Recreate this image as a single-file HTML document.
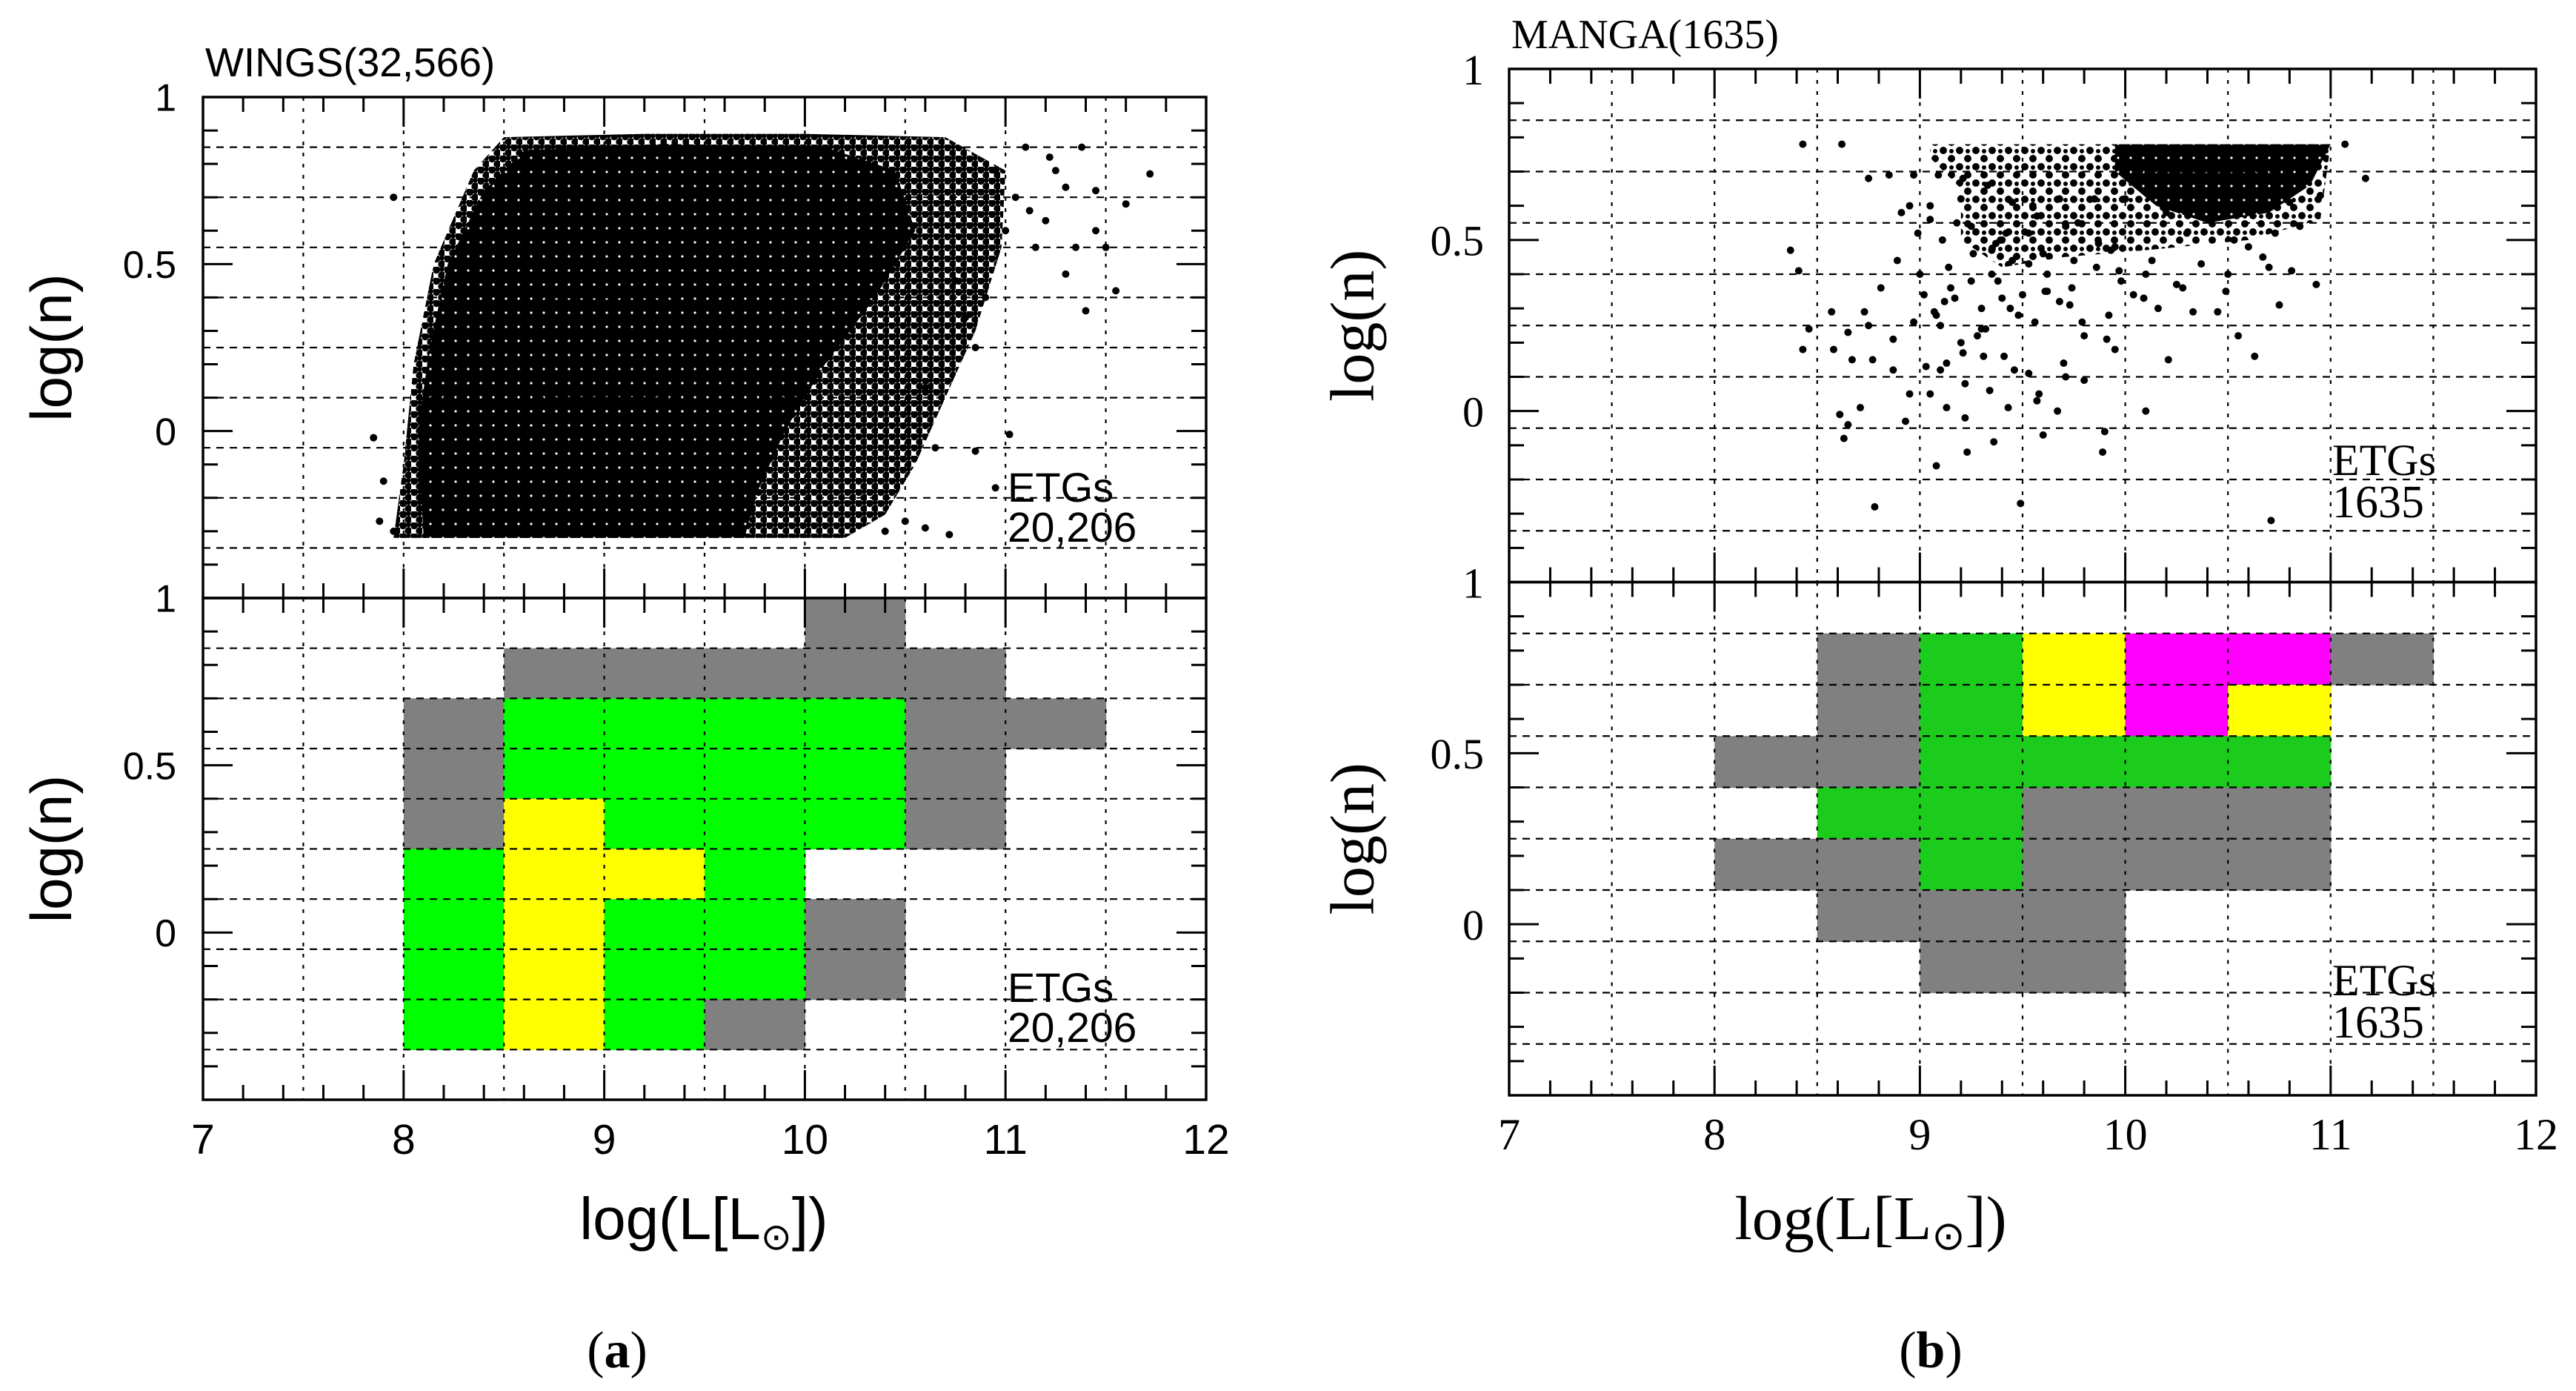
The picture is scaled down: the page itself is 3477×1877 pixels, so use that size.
<!DOCTYPE html>
<html><head><meta charset="utf-8">
<style>
html,body{margin:0;padding:0;background:#fff;}
svg{display:block;}
.sa{font-family:"Liberation Sans",sans-serif;}
.se{font-family:"Liberation Serif",serif;}
</style></head>
<body>
<svg id="fig" width="3477" height="1877" viewBox="0 0 3477 1877" xmlns="http://www.w3.org/2000/svg">
<defs>
<pattern id="dense" width="17" height="19" patternUnits="userSpaceOnUse">
<rect width="17" height="19" fill="#000"/>
<circle cx="3" cy="4" r="1.6" fill="#fff"/>
</pattern>
<pattern id="fringeA" width="15" height="15" patternUnits="userSpaceOnUse">
<circle cx="4" cy="4" r="5.2" fill="#000"/>
<circle cx="11.5" cy="11.5" r="5.2" fill="#000"/>
<circle cx="11.5" cy="3" r="3.5" fill="#000"/>
</pattern>
<pattern id="fringeB" width="22" height="22" patternUnits="userSpaceOnUse">
<circle cx="5" cy="5" r="5" fill="#000"/>
<circle cx="16" cy="16" r="5" fill="#000"/>
<circle cx="16" cy="6" r="3" fill="#000"/>
</pattern>
</defs>
<g id="root"></g>
</svg>
<script>
// ---------- data ----------
const xTicksMajor = [7, 8, 9, 10, 11, 12];
const yTickLabels = ["1", "0.5", "0"];
const yTickValues = [1, 0.5, 0];
const binEdgesY = [0.85, 0.70, 0.55, 0.40, 0.25, 0.10, -0.05, -0.20, -0.35];
const gridX = [7.5, 8, 8.5, 9, 9.5, 10, 10.5, 11, 11.5];

const wingsCellLum0 = [10.0, 8.5, 8.0, 8.5, 10.5, 11.0, 8.0, 8.5, 10.5, 8.0, 8.5, 9.0, 10.5, 8.0, 8.5, 9.5, 10.0, 8.0, 8.5, 9.0, 10.0, 8.0, 8.5, 9.0, 9.5];
const wingsCellLum1 = [10.5, 11.0, 8.5, 10.5, 11.0, 11.5, 8.5, 10.5, 11.0, 8.5, 9.0, 10.5, 11.0, 8.5, 9.5, 10.0, 10.5, 8.5, 9.0, 10.0, 10.5, 8.5, 9.0, 9.5, 10.0];
const wingsCellN0 = [0.85, 0.70, 0.55, 0.55, 0.55, 0.55, 0.40, 0.40, 0.40, 0.25, 0.25, 0.25, 0.25, 0.10, 0.10, 0.10, -0.20, -0.35, -0.35, -0.20, -0.05, -0.35, -0.35, -0.35, -0.35];
const wingsCellN1 = [1.00, 0.85, 0.70, 0.70, 0.70, 0.70, 0.55, 0.55, 0.55, 0.40, 0.40, 0.40, 0.40, 0.25, 0.25, 0.25, 0.10, 0.10, 0.10, 0.10, 0.10, -0.20, -0.20, -0.20, -0.20];
const wingsCellColor = ["g","g","g","G","g","g","g","G","g","g","y","G","g","G","y","G","g","G","y","G","g","G","y","G","g"];

const mangaCellLum0 = [8.5, 9.0, 9.5, 10.0, 11.0, 8.5, 9.0, 9.5, 10.0, 10.5, 8.0, 9.0, 8.5, 9.5, 8.0, 9.0, 9.5, 8.5, 9.0];
const mangaCellLum1 = [9.0, 9.5, 10.0, 11.0, 11.5, 9.0, 9.5, 10.0, 10.5, 11.0, 9.0, 11.0, 9.5, 11.0, 9.0, 9.5, 11.0, 10.0, 10.0];
const mangaCellN0 = [0.70, 0.70, 0.70, 0.70, 0.70, 0.55, 0.55, 0.55, 0.55, 0.55, 0.40, 0.40, 0.25, 0.25, 0.10, 0.10, 0.10, -0.05, -0.20];
const mangaCellN1 = [0.85, 0.85, 0.85, 0.85, 0.85, 0.70, 0.70, 0.70, 0.70, 0.70, 0.55, 0.55, 0.40, 0.40, 0.25, 0.25, 0.25, 0.10, -0.05];
const mangaCellColor = ["g","G","y","m","g","g","G","y","m","y","g","G","G","g","g","G","g","g","g"];

const wingsCoreLum = [8.1, 8.07, 8.13, 8.22, 8.4, 8.6, 9.3, 10.1, 10.45, 10.55, 10.35, 10.1, 9.9, 9.75, 9.7];
const wingsCoreN   = [-0.32, 0.0, 0.25, 0.5, 0.72, 0.84, 0.86, 0.85, 0.78, 0.6, 0.4, 0.2, 0.0, -0.2, -0.32];
const wingsFringeLum = [7.95, 8.0, 8.05, 8.15, 8.35, 8.5, 9.2, 10.0, 10.7, 11.0, 10.98, 10.85, 10.7, 10.55, 10.4, 10.2];
const wingsFringeN   = [-0.32, -0.1, 0.2, 0.5, 0.78, 0.88, 0.89, 0.89, 0.88, 0.78, 0.55, 0.3, 0.1, -0.1, -0.25, -0.32];
const wingsPtsLum = [7.95, 11.72, 11.6, 11.45, 11.3, 11.4, 11.55, 11.2, 11.3, 11.1, 11.22, 11.38, 10.72, 11.02, 10.85, 10.95, 10.6, 10.5, 11.25, 11.15, 10.9, 10.85, 11.0, 7.85, 7.88, 7.95, 7.9, 11.5, 11.35, 11.05, 10.95, 10.6, 10.65, 10.4, 11.12, 11.45, 10.8, 10.75];
const wingsPtsN   = [0.70, 0.77, 0.68, 0.60, 0.47, 0.36, 0.42, 0.63, 0.73, 0.85, 0.82, 0.85, -0.31, -0.01, -0.06, -0.17, -0.29, -0.27, 0.78, 0.55, 0.40, 0.25, 0.60, -0.02, -0.27, -0.30, -0.15, 0.55, 0.55, 0.70, 0.78, 0.13, -0.05, -0.30, 0.66, 0.72, 0.34, 0.45];

const mangaCoreLum = [9.95, 11.0, 10.9, 10.7, 10.4, 10.15, 9.95];
const mangaCoreN   = [0.78, 0.78, 0.66, 0.58, 0.55, 0.6, 0.7];
const mangaFringeLum = [9.05, 11.0, 10.95, 10.6, 10.1, 9.7, 9.4, 9.2, 9.2, 9.05];
const mangaFringeN   = [0.78, 0.78, 0.56, 0.5, 0.47, 0.45, 0.42, 0.5, 0.65, 0.74];
const mangaPtsLum = [8.43, 8.62, 8.37, 8.41, 8.46, 8.43, 8.58, 8.61, 8.65, 8.63, 8.71, 8.78, 9.08, 9.49, 10.71, 10.1, 9.9, 9.89, 9.6, 9.67, 9.57, 9.43, 9.36, 9.23, 9.22, 9.13, 8.93, 8.95, 9.05, 10.21, 10.63, 9.8, 9.71, 9.53, 9.41, 9.31, 9.21, 9.13, 9.03, 8.87, 8.77, 8.67, 8.87, 8.75, 8.97, 9.07, 9.17, 9.25, 9.35, 9.45, 9.53, 9.61, 9.73, 9.79, 9.91, 9.95, 10.33, 10.45, 10.55, 10.75, 10.93, 10.81, 10.67, 10.49, 10.25, 10.09, 9.97, 9.87, 9.71, 9.57, 9.45, 9.33, 9.21, 9.09, 8.97, 8.85, 8.75, 8.91, 8.99, 9.11, 9.25, 9.37, 9.53, 9.77, 9.93, 10.13, 10.37, 10.53, 10.73, 10.85, 10.95, 11.17, 11.07, 8.89, 8.81, 8.73, 8.65, 8.57, 9.15, 9.3, 9.4, 9.0, 9.1, 9.28, 9.48, 9.62, 9.35, 9.18, 9.05, 9.42, 9.55, 9.68, 10.0, 10.2, 10.4, 10.6, 10.8, 9.85, 9.3, 9.12, 9.02, 9.14, 9.26, 9.38, 9.5, 9.62, 9.74, 9.86, 9.98, 10.1, 9.08, 9.2, 9.32, 9.44, 9.56, 9.68, 9.8, 9.92, 10.04, 10.16, 10.28, 10.5, 10.7, 9.1, 9.22, 9.34, 9.46, 9.58, 9.7, 8.95, 9.05, 9.2, 9.4, 9.6, 9.75, 9.95, 10.3, 10.6];
const mangaPtsN   = [0.78, 0.78, 0.47, 0.41, 0.24, 0.18, 0.18, -0.01, -0.04, -0.08, 0.01, -0.28, -0.16, -0.27, -0.32, 0.0, -0.06, -0.12, -0.07, 0.0, 0.03, 0.01, -0.09, -0.12, -0.02, 0.01, -0.03, 0.05, 0.05, 0.15, 0.16, 0.09, 0.1, 0.11, 0.16, 0.16, 0.17, 0.14, 0.13, 0.12, 0.15, 0.15, 0.21, 0.25, 0.26, 0.29, 0.33, 0.38, 0.40, 0.44, 0.43, 0.35, 0.31, 0.26, 0.21, 0.18, 0.29, 0.29, 0.22, 0.31, 0.37, 0.41, 0.45, 0.35, 0.37, 0.33, 0.41, 0.49, 0.54, 0.57, 0.61, 0.66, 0.68, 0.69, 0.69, 0.69, 0.68, 0.58, 0.52, 0.50, 0.54, 0.49, 0.52, 0.55, 0.47, 0.44, 0.43, 0.50, 0.52, 0.54, 0.63, 0.68, 0.78, 0.44, 0.36, 0.29, 0.23, 0.29, 0.36, 0.30, 0.33, 0.40, 0.25, 0.22, 0.28, 0.35, 0.47, 0.55, 0.60, 0.52, 0.60, 0.62, 0.62, 0.58, 0.60, 0.63, 0.61, 0.62, 0.24, 0.32, 0.34, 0.42, 0.46, 0.38, 0.34, 0.4, 0.36, 0.42, 0.38, 0.4, 0.28, 0.2, 0.24, 0.3, 0.26, 0.32, 0.22, 0.28, 0.34, 0.3, 0.36, 0.4, 0.42, 0.12, 0.08, 0.06, 0.12, 0.05, 0.14, 0.6, 0.56, 0.62, 0.5, 0.46, 0.44, 0.48, 0.52, 0.48];

const colorMapA = {g: "#808080", G: "#00ff00", y: "#ffff00", m: "#ff00ff"};
const colorMapB = {g: "#808080", G: "#1ccc1c", y: "#ffff00", m: "#ff00ff"};

// ---------- layout ----------
const NS = "http://www.w3.org/2000/svg";
const root = document.getElementById("root");
const panels = [
  {id: "a", x0: 274, x1: 1628, yTop: 131, yMid: 807, yBot: 1484, font: "sa"},
  {id: "b", x0: 2037, x1: 3423, yTop: 93, yMid: 785.5, yBot: 1478, font: "se"}
];
const XMIN = 7, XMAX = 12, YMIN = -0.5, YMAX = 1;
function sx(p, v) { return p.x0 + (v - XMIN) / (XMAX - XMIN) * (p.x1 - p.x0); }
function sy(top, bot, v) { return top + (YMAX - v) / (YMAX - YMIN) * (bot - top); }
function mk(tag, attrs, parent) {
  const e = document.createElementNS(NS, tag);
  for (const k in attrs) e.setAttribute(k, attrs[k]);
  (parent || root).appendChild(e);
  return e;
}
function txt(s, x, y, size, cls, anchor, parent) {
  const t = mk("text", {x: x, y: y, "font-size": size, class: cls, "text-anchor": anchor || "start", fill: "#000"}, parent);
  t.textContent = s;
  return t;
}

function drawPanel(p, which, top, bot) {
  const g = mk("g", {});
  
  

  const dg = mk("g", {}, g);
  
  
  if (which === "top") {
    const isA = p.id === "a";
    const fl = isA ? wingsFringeLum : mangaFringeLum, fn = isA ? wingsFringeN : mangaFringeN;
    const cl = isA ? wingsCoreLum : mangaCoreLum, cn = isA ? wingsCoreN : mangaCoreN;
    const fpts = fl.map((v, i) => sx(p, v) + "," + sy(top, bot, fn[i])).join(" ");
    const fr = mk("polygon", {points: fpts, fill: isA ? "url(#fringeA)" : "url(#fringeB)"}, dg);
    
    
    const cpts = cl.map((v, i) => sx(p, v) + "," + sy(top, bot, cn[i])).join(" ");
    const co = mk("polygon", {points: cpts, fill: "url(#dense)"}, dg);
    
    
    const pl = isA ? wingsPtsLum : mangaPtsLum, pn = isA ? wingsPtsN : mangaPtsN;
    pl.forEach((v, i) => {
      const c = mk("circle", {cx: sx(p, v), cy: sy(top, bot, pn[i]), r: 5, fill: "#000"}, dg);
      
      
    });
  } else {
    const isA = p.id === "a";
    const L0 = isA ? wingsCellLum0 : mangaCellLum0, L1 = isA ? wingsCellLum1 : mangaCellLum1;
    const N0 = isA ? wingsCellN0 : mangaCellN0, N1 = isA ? wingsCellN1 : mangaCellN1;
    const C = isA ? wingsCellColor : mangaCellColor, cmap = isA ? colorMapA : colorMapB;
    L0.forEach((v, i) => {
      const x = sx(p, v), x2 = sx(p, L1[i]);
      const y = sy(top, bot, N1[i]), y2 = sy(top, bot, N0[i]);
      const r = mk("rect", {x: x, y: y, width: x2 - x + 0.6, height: y2 - y + 0.6, fill: cmap[C[i]]}, dg);
      
      
    });
  }

  const gg = mk("g", {}, g);
  
  
  gridX.forEach(v => {
    mk("line", {x1: sx(p, v), x2: sx(p, v), y1: top, y2: bot, stroke: "#000", "stroke-width": 2.2, "stroke-dasharray": "5,10"}, gg);
  });
  binEdgesY.forEach(v => {
    mk("line", {x1: p.x0, x2: p.x1, y1: sy(top, bot, v), y2: sy(top, bot, v), stroke: "#000", "stroke-width": 2.2, "stroke-dasharray": "10,8"}, gg);
  });

  const tg = mk("g", {stroke: "#000", "stroke-width": 3}, g);
  
  
  for (let k = 0; k <= 25; k++) {
    const v = XMIN + k * 0.2;
    const len = (k % 5 === 0) ? 40 : 20;
    const x = sx(p, v);
    mk("line", {x1: x, x2: x, y1: top, y2: top + len}, tg);
    mk("line", {x1: x, x2: x, y1: bot, y2: bot - len}, tg);
  }
  for (let k = 0; k <= 15; k++) {
    const v = YMIN + k * 0.1;
    const len = (k % 5 === 0) ? 40 : 20;
    const y = sy(top, bot, v);
    mk("line", {x1: p.x0, x2: p.x0 + len, y1: y, y2: y}, tg);
    mk("line", {x1: p.x1, x2: p.x1 - len, y1: y, y2: y}, tg);
  }
  const fr = mk("rect", {x: p.x0, y: top, width: p.x1 - p.x0, height: bot - top, fill: "none", stroke: "#000", "stroke-width": 3.5}, g);
  
  

  const lx = p.id === "a" ? 238 : 2003;
  const fs = p.id === "a" ? 52 : 58;
  yTickValues.forEach((v, i) => {
    const t = txt(yTickLabels[i], lx, sy(top, bot, v) + fs * 0.36, fs, p.font, "end", g);
    
    
  });
  const tx = p.id === "a" ? 69 : 1826;
  const ty = (top + bot) / 2;
  const yt = mk("text", {x: tx, y: ty, "font-size": p.id === "a" ? 78 : 84, class: p.font, "text-anchor": "middle", "dominant-baseline": "central", transform: "rotate(-90 " + tx + " " + ty + ")", fill: "#000"}, g);
  yt.textContent = "log(n)";
  
  

  const ax = p.id === "a" ? 1360 : 3148;
  const b1 = p.id === "a" ? (which === "top" ? 677 : 1352) : (which === "top" ? 641 : 1343);
  const ag = mk("g", {}, g);
  
  
  txt("ETGs", ax, b1, p.id === "a" ? 56 : 60, p.font, "start", ag);
  txt(p.id === "a" ? "20,206" : "1635", ax, b1 + (p.id === "a" ? 54 : 57), p.id === "a" ? 57 : 62, p.font, "start", ag);
}

panels.forEach(p => {
  drawPanel(p, "top", p.yTop, p.yMid);
  drawPanel(p, "bottom", p.yMid, p.yBot);
  const xg = mk("g", {});
  
  
  xTicksMajor.forEach(v => {
    txt(String(v), sx(p, v), p.yBot + 73, p.id === "a" ? 57 : 60, p.font, "middle", xg);
  });
  const cx = p.id === "a" ? 950 : 2525;
  const xt = mk("text", {x: cx, y: 1672, "font-size": p.id === "a" ? 80 : 84, class: p.font, "text-anchor": "middle", fill: "#000"});
  
  
  xt.innerHTML = 'log(L[L<tspan font-size="' + (p.id === "a" ? 50 : 54) + '" dy="14">⊙</tspan><tspan dy="-14">])</tspan>';
  const tt = txt(p.id === "a" ? "WINGS(32,566)" : "MANGA(1635)", p.id === "a" ? 277 : 2040, p.id === "a" ? 103 : 65, p.id === "a" ? 55 : 56, p.font, "start");
  
  
  const cap = mk("text", {x: p.id === "a" ? 833 : 2606, y: 1845, "font-size": 70, class: "se", "text-anchor": "middle", fill: "#000"});
  cap.innerHTML = '(<tspan font-weight="bold">' + p.id + '</tspan>)';
  
  
});
</script>
</body></html>
